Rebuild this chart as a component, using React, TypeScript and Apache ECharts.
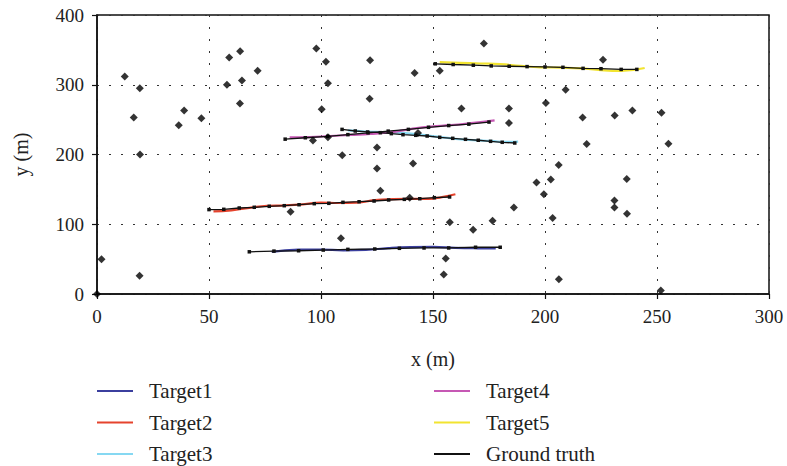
import React, { useEffect, useRef } from "react";
import * as echarts from "echarts";

const clutterX = [0, 2, 19, 19.2, 86.4, 12.4, 19.1, 16.4, 36.5, 38.9, 46.6, 59, 63.9, 71.7, 64.7, 58, 63.8, 97.9, 102.2, 103.1, 100.3, 96.4, 103.1, 121.9, 121.7, 141.8, 153, 172.7, 162.7, 183.9, 183.9, 200.4, 125, 109.5, 143.3, 225.9, 209.2, 216.8, 231.1, 239, 252, 218.6, 255.1, 125, 141.1, 126.5, 139.6, 108.9, 157.5, 167.9, 176.6, 186.1, 196.2, 199.5, 202.6, 206.1, 203.4, 155.7, 154.8, 206.2, 236.5, 231, 231, 236.6, 251.7];
const clutterY = [0, 50, 26, 200, 118, 312, 295, 253, 242, 263, 252, 339, 348, 320, 306, 300, 273, 352, 333, 302, 265, 220, 224.6, 335, 280, 317, 320, 359, 266, 266, 245, 274, 210, 199, 231, 336, 293, 253, 256, 263, 260, 215, 215.5, 180, 187, 148, 138, 80, 103, 92, 105, 124, 160, 143, 164, 185, 109, 51, 28, 21, 165, 134, 124, 115, 5];

// Ground truth tracks
const gt1X = [68, 79, 90, 101, 112, 124, 135, 146, 157, 169, 180];
const gt1Y = [60.5, 61.5, 62, 63, 64, 64.5, 65.5, 66, 66, 67, 67];
const gt2X = [50, 56.6, 63.5, 70.2, 76.9, 83.6, 90.2, 97, 103.5, 109.8, 117, 123.7, 130.2, 137.2, 144.1, 150.6, 157.4];
const gt2Y = [121, 121.4, 123.3, 124.3, 125.7, 126.6, 128, 129.5, 130, 131.4, 132.3, 133.3, 134.8, 135.7, 136.6, 138.1, 139.1];
const gt3X = [109.4, 115.3, 120.8, 126.5, 131.4, 136.6, 142.3, 147.4, 153, 158.8, 164.5, 170.2, 175.7, 180.9, 186.5];
const gt3Y = [236, 233.7, 232.3, 231.3, 229.9, 228.4, 227.5, 226.5, 224.6, 223.2, 221.8, 220.4, 218.9, 217.5, 216.5];
const gt4X = [84, 93, 103, 112, 121, 130, 139, 148, 157, 166, 175];
const gt4Y = [222, 224, 226, 228.5, 231, 233.5, 236, 239, 241.5, 243.5, 246.5];
const gt5X = [151, 159, 168, 176, 184, 192, 200, 208, 217, 225, 234, 241];
const gt5Y = [330, 329, 328, 327, 326.5, 326, 325.5, 325, 323.5, 323, 322, 322];

// Estimated tracks
const t1X = [78, 90, 100, 110, 120, 130, 140, 150, 160, 170, 178];
const t1Y = [60.5, 63.5, 63.8, 62.5, 63.2, 65.8, 67.2, 67.5, 66.2, 65.5, 65.3];
const t2X = [52, 60, 68, 76, 84, 92, 100, 108, 116, 124, 132, 140, 148, 154, 160];
const t2Y = [118.5, 120, 123.5, 126.5, 127, 128.5, 131, 130.5, 131, 134.5, 136, 136.5, 136.5, 139, 143];
const t3X = [112, 120, 128, 136, 144, 152, 160, 168, 176, 182, 188];
const t3Y = [234.5, 233, 232, 231, 228.5, 225.5, 222.5, 220.5, 219.5, 218, 218.5];
const t4X = [86, 95, 104, 113, 122, 131, 140, 149, 158, 167, 177.5];
const t4Y = [224.5, 225, 226.5, 228, 229.5, 232, 236.5, 240, 242, 245, 249];
const t5X = [153, 162, 171, 180, 189, 198, 207, 216, 225, 234, 244.5];
const t5Y = [332.5, 331.5, 330.5, 329.5, 327, 325, 324.5, 323.5, 321, 320, 324];

const targetNames = ["Target1", "Target2", "Target3", "Target4", "Target5"];
const targetColors = ["#3b3f9e", "#e5432d", "#86d8f2", "#c658b4", "#f2e430"];
const xTicks = [0, 50, 100, 150, 200, 250, 300];
const yTicks = [0, 100, 200, 300, 400];

const zip = (xs: number[], ys: number[]) => xs.map((x, i) => [x, ys[i]]);

const FONT = "Liberation Serif";

export default function App() {
  const ref = useRef<HTMLDivElement>(null);
  useEffect(() => {
    if (!ref.current) return;
    const chart = echarts.init(ref.current, undefined, { renderer: "svg" });
    const targets = [zip(t1X, t1Y), zip(t2X, t2Y), zip(t3X, t3Y), zip(t4X, t4Y), zip(t5X, t5Y)];
    const gts = [zip(gt1X, gt1Y), zip(gt2X, gt2Y), zip(gt3X, gt3Y), zip(gt4X, gt4Y), zip(gt5X, gt5Y)];
    const series: any[] = [];
    targets.forEach((d, i) => {
      series.push({
        type: "line",
        name: targetNames[i],
        data: d,
        smooth: true,
        showSymbol: false,
        symbol: "none",
        lineStyle: { color: targetColors[i], width: 2.2 },
        itemStyle: { color: targetColors[i] },
        z: 2,
      });
    });
    gts.forEach((d) => {
      series.push({
        type: "line",
        name: "Ground truth",
        data: d,
        symbol: "rect",
        symbolSize: 3.5,
        showSymbol: true,
        lineStyle: { color: "#111", width: 1.3 },
        itemStyle: { color: "#111" },
        z: 3,
      });
    });
    series.push({
      type: "scatter",
      name: "clutter",
      data: zip(clutterX, clutterY),
      symbol: "diamond",
      symbolSize: 8,
      itemStyle: { color: "#000" },
      z: 4,
    });
    const legendText = { fontFamily: FONT, fontSize: 21, color: "#222", lineHeight: 21, padding: [0, 0, 0, 11] };
    const legendBase = {
      orient: "vertical",
      top: 380.5,
      padding: 0,
      itemWidth: 36,
      itemHeight: 2,
      itemGap: 10.5,
      icon: "rect",
      itemStyle: { borderWidth: 0 },
      lineStyle: { width: 2 },
      textStyle: legendText,
      selectedMode: false,
    };
    chart.setOption({
      animation: false,
      textStyle: { fontFamily: FONT },
      grid: { left: 97, right: 18, top: 15, bottom: 172, show: true, borderColor: "#111", borderWidth: 1.5, backgroundColor: "transparent" },
      legend: [
        { ...legendBase, data: targetNames.slice(0, 3), left: 97 },
        { ...legendBase, data: [targetNames[3], targetNames[4], "Ground truth"], left: 434 },
      ],
      xAxis: {
        type: "value",
        min: xTicks[0],
        max: xTicks[xTicks.length - 1],
        interval: 50,
        name: "x (m)",
        nameLocation: "middle",
        nameGap: 55,
        nameTextStyle: { fontFamily: FONT, fontSize: 20, color: "#222" },
        axisLine: { show: true, lineStyle: { color: "#111", width: 1.5 } },
        axisTick: { show: true, length: 5, lineStyle: { color: "#111", width: 1.2 } },
        axisLabel: { fontFamily: FONT, fontSize: 19, color: "#222", margin: 13 },
        splitLine: { show: true, lineStyle: { color: "#333", type: [2, 10], width: 1 } },
      },
      yAxis: {
        type: "value",
        min: yTicks[0],
        max: yTicks[yTicks.length - 1],
        interval: 100,
        name: "y (m)",
        nameLocation: "middle",
        nameGap: 66,
        nameTextStyle: { fontFamily: FONT, fontSize: 20, color: "#222" },
        axisLine: { show: true, lineStyle: { color: "#111", width: 1.5 } },
        axisTick: { show: true, length: 5, lineStyle: { color: "#111", width: 1.2 } },
        axisLabel: { fontFamily: FONT, fontSize: 19, color: "#222", margin: 13 },
        splitLine: { show: true, lineStyle: { color: "#333", type: [2, 10], width: 1 } },
      },
      series,
    });
    return () => chart.dispose();
  }, []);
  return <div ref={ref} style={{ width: 787, height: 466, position: "absolute", left: 0, top: 0 }} />;
}
